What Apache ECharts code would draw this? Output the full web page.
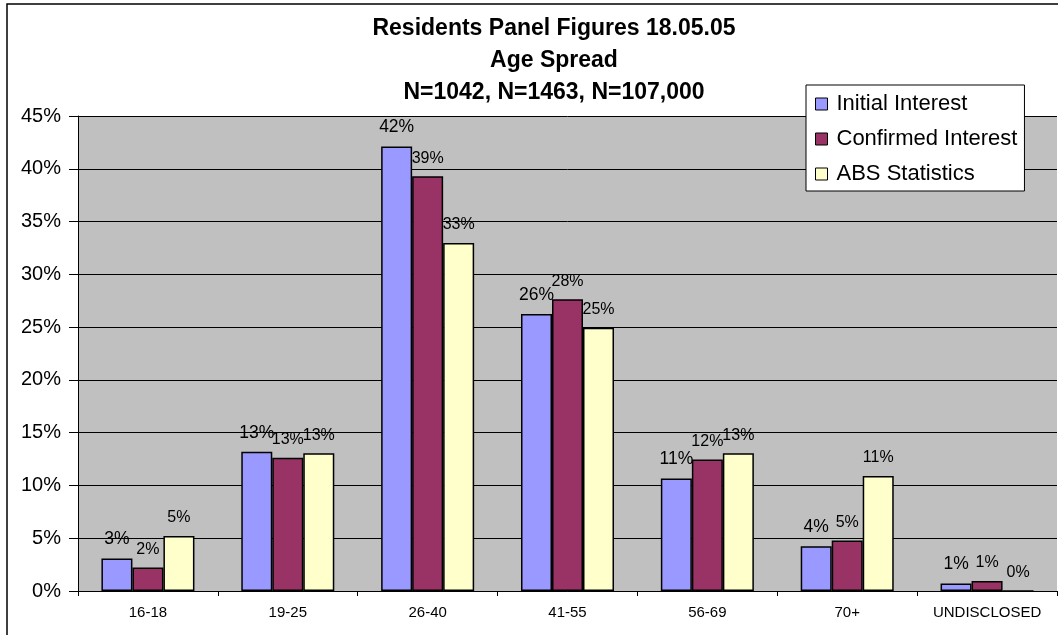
<!DOCTYPE html>
<html>
<head>
<meta charset="utf-8">
<title>Residents Panel Figures - Age Spread</title>
<script src="https://cdn.jsdelivr.net/npm/echarts@6/dist/echarts.min.js"></script>
<style>
  html, body { margin: 0; padding: 0; background: #fff; }
  #chart { width: 1058px; height: 635px; }
</style>
</head>
<body>
<div id="chart"></div>
<script>
// 数据
const categories = ['16-18', '19-25', '26-40', '41-55', '56-69', '70+', 'UNDISCLOSED']
const seriesNames = ['Initial Interest', 'Confirmed Interest', 'ABS Statistics']
const initialInterest = [3.07, 13.19, 42.1, 26.25, 10.66, 4.24, 0.7]
const confirmedInterest = [2.22, 12.62, 39.3, 27.65, 12.45, 4.78, 0.95]
const absStatistics = [5.22, 13.06, 32.96, 24.95, 13.06, 10.9, 0]
const yTicks = [0, 5, 10, 15, 20, 25, 30, 35, 40, 45]
const titleText = 'Residents Panel Figures 18.05.05\nAge Spread\nN=1042, N=1463, N=107,000'

const FONT = 'Liberation Sans, Arial, sans-serif'
const colors = ['#9999FF', '#993366', '#FFFFCC']
const labelSizes = [17.5, 16, 16]

const chart = echarts.init(document.getElementById('chart'))

// 每个系列的样式
const makeSeries = (name, data, i) => ({
  name: name,
  type: 'bar',
  data: data,
  barGap: '0%',
  barCategoryGap: '33.5%',
  itemStyle: {
    color: colors[i],
    borderColor: '#000',
    borderWidth: 1.5
  },
  label: {
    show: true,
    position: 'top',
    distance: 10,
    color: '#000',
    fontFamily: FONT,
    fontSize: labelSizes[i],
    formatter: p => Math.round(p.value) + '%'
  }
})

const option = {
  animation: false,
  textStyle: { fontFamily: FONT },
  graphic: [
    {
      type: 'rect',
      silent: true,
      z: -10,
      shape: { x: 7, y: 4, width: 1100, height: 700 },
      style: { fill: 'none', stroke: '#000', lineWidth: 1.5 }
    },
    {
      // 标题
      type: 'text',
      silent: true,
      x: 554,
      y: 13,
      style: {
        text: titleText,
        align: 'center',
        verticalAlign: 'top',
        font: 'bold 23px ' + FONT,
        lineHeight: 32,
        fill: '#000'
      }
    }
  ],
  legend: {
    data: seriesNames,
    orient: 'vertical',
    left: 806,
    top: 85,
    padding: [8, 7, 6, 9],
    itemGap: 13,
    itemWidth: 12,
    itemHeight: 12,
    icon: 'rect',
    backgroundColor: '#fff',
    borderColor: '#000',
    borderWidth: 1,
    z: 10,
    itemStyle: { borderColor: '#000', borderWidth: 1 },
    textStyle: {
      fontFamily: FONT,
      fontSize: 22,
      color: '#000',
      padding: [0, 0, 0, 4]
    }
  },
  grid: {
    left: 78,
    right: 1,
    top: 116,
    bottom: 44,
    show: true,
    backgroundColor: '#C0C0C0',
    borderWidth: 0
  },
  xAxis: {
    type: 'category',
    data: categories,
    axisLine: { lineStyle: { color: '#000', width: 1 } },
    axisTick: { show: true, length: 5, lineStyle: { color: '#000' } },
    axisLabel: {
      color: '#000',
      fontFamily: FONT,
      fontSize: 15,
      margin: 14,
      interval: 0
    }
  },
  yAxis: {
    type: 'value',
    min: yTicks[0],
    max: yTicks[yTicks.length - 1],
    interval: 5,
    axisLine: { show: true, lineStyle: { color: '#000', width: 1 } },
    axisTick: { show: true, length: 9, lineStyle: { color: '#000' } },
    axisLabel: {
      color: '#000',
      fontFamily: FONT,
      fontSize: 20,
      margin: 17,
      formatter: '{value}%'
    },
    splitLine: { show: true, lineStyle: { color: '#000', width: 1 } }
  },
  series: [
    makeSeries(seriesNames[0], initialInterest, 0),
    makeSeries(seriesNames[1], confirmedInterest, 1),
    makeSeries(seriesNames[2], absStatistics, 2)
  ]
}

chart.setOption(option)
</script>
</body>
</html>
